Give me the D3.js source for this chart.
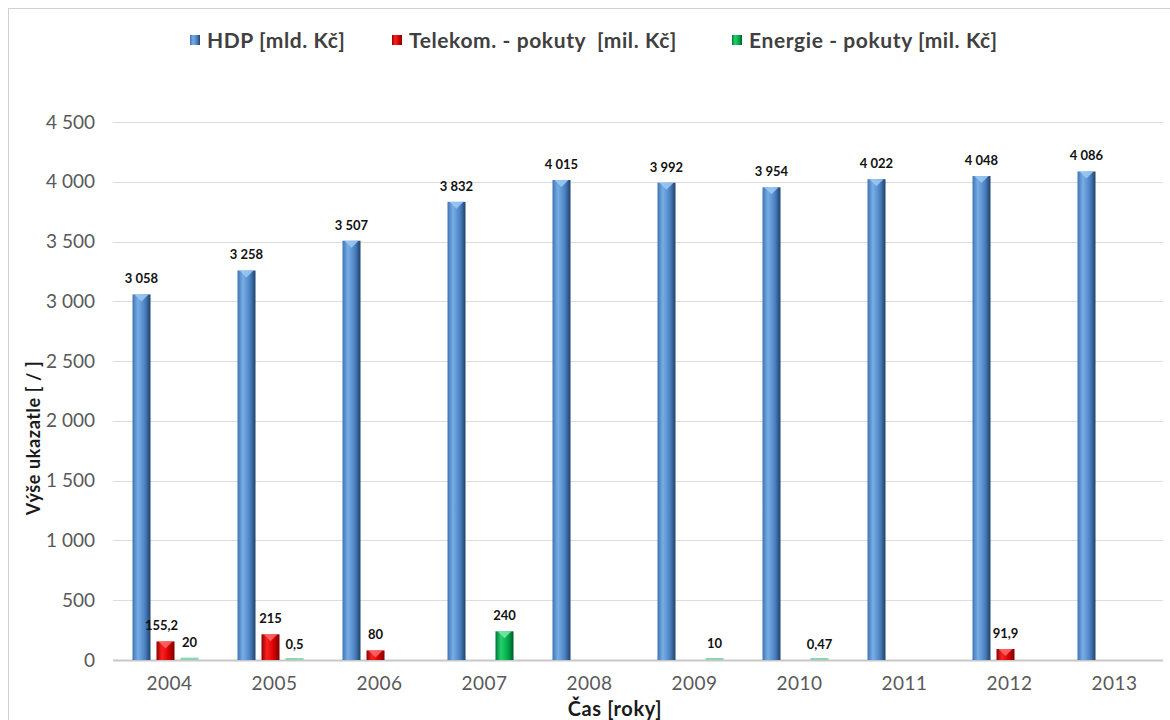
<!DOCTYPE html>
<html>
<head>
<meta charset="utf-8">
<script src="https://cdn.jsdelivr.net/npm/d3@7"></script>
<style>
  body { margin: 0; background: #fff; }
  #chart text { font-family: Lato, "Open Sans", sans-serif; }
</style>
</head>
<body>
<div id="chart"></div>
<script>
// chart data
const years = ["2004", "2005", "2006", "2007", "2008", "2009", "2010", "2011", "2012", "2013"];
const seriesNames = ["HDP [mld. Kč]", "Telekom. - pokuty  [mil. Kč]", "Energie - pokuty [mil. Kč]"];
const hdp = [3058, 3258, 3507, 3832, 4015, 3992, 3954, 4022, 4048, 4086];
const telekom = [155.2, 215, 80, null, null, null, null, null, 91.9, null];
const energie = [20, 0.5, null, 240, null, 10, 0.47, null, null, null];
const yTicks = [0, 500, 1000, 1500, 2000, 2500, 3000, 3500, 4000, 4500];

const allSeries = [hdp, telekom, energie];
const seriesKeys = ["hdp", "tel", "ene"];

const width = 1170;
const height = 720;

// czech number formatting: space thousands, comma decimals
const cz = d3.formatLocale({ decimal: ",", thousands: "\u00a0", grouping: [3], currency: ["", ""] });
const fmt = cz.format(",");

const svg = d3.select("#chart").append("svg")
  .attr("width", width)
  .attr("height", height);

// outer frame
svg.append("rect")
  .attr("x", 8.5).attr("y", 8.5)
  .attr("width", width).attr("height", height)
  .attr("fill", "#fff")
  .attr("stroke", "#d0d0d0");

// gradients
const defs = svg.append("defs");
const gradColors = {
  hdp: ["#3f74b3", "#78aee6", "#4a80c0", "#1f4169"],
  tel: ["#8c0000", "#ff2020", "#d00000", "#7a0000"],
  ene: ["#00753a", "#25d06a", "#00a84a", "#005a2b"],
};
seriesKeys.forEach((k) => {
  const g = defs.append("linearGradient").attr("id", "grad-" + k)
    .attr("x1", "0%").attr("x2", "100%").attr("y1", "0%").attr("y2", "0%");
  g.append("stop").attr("offset", "0%").attr("stop-color", gradColors[k][0]);
  g.append("stop").attr("offset", "30%").attr("stop-color", gradColors[k][1]);
  g.append("stop").attr("offset", "70%").attr("stop-color", gradColors[k][2]);
  g.append("stop").attr("offset", "100%").attr("stop-color", gradColors[k][3]);
});
const topColors = { hdp: "#9ccaf5", tel: "#ff6b6b", ene: "#7fe8a8" };
const thinColors = { hdp: "#9ccaf5", tel: "#e88", ene: "#8fd6b0" };

// scales
const plotLeft = 113, plotRight = 1163, plotTop = 122, plotBottom = 660;
const x0 = d3.scaleBand().domain(years).range([plotLeft, plotRight]);
const groupWidth = 66;
const x1 = d3.scaleBand().domain(seriesKeys).range([0, groupWidth]).paddingInner(0.25);
const y = d3.scaleLinear().domain([0, 4500]).range([plotBottom, plotTop]);

// gridlines
svg.append("g")
  .selectAll("line")
  .data(yTicks)
  .enter()
  .append("line")
  .attr("x1", plotLeft).attr("x2", plotRight)
  .attr("y1", (d) => Math.round(y(d)) + 0.5)
  .attr("y2", (d) => Math.round(y(d)) + 0.5)
  .attr("stroke", (d) => (d === 0 ? "#c8c8c8" : "#dcdcdc"))
  .attr("stroke-width", (d) => (d === 0 ? 2 : 1));

// y axis labels
const yAxis = d3.axisLeft(y).tickValues(yTicks).tickFormat(fmt).tickSize(0).tickPadding(0);
const yg = svg.append("g").attr("transform", `translate(95,0)`).call(yAxis);
yg.select(".domain").remove();
yg.selectAll("text")
  .attr("fill", "#595959")
  .style("font-size", "19px");

// x axis labels
const xAxis = d3.axisBottom(x0).tickSize(0).tickPadding(0);
const xg = svg.append("g").attr("transform", `translate(4,${plotBottom + 16})`).call(xAxis);
xg.select(".domain").remove();
xg.selectAll("text")
  .attr("fill", "#595959")
  .style("font-size", "19px")
  .style("letter-spacing", "0.5px");

// bars
const groupOffset = (x0.bandwidth() - groupWidth) / 2;
seriesKeys.forEach((k, si) => {
  const vals = allSeries[si];
  const data = years.map((yr, i) => ({ year: yr, value: vals[i] })).filter((d) => d.value !== null);
  const g = svg.append("g");
  const bx = (d) => x0(d.year) + groupOffset + x1(k);
  const bw = x1.bandwidth();

  g.selectAll("rect.bar")
    .data(data)
    .enter()
    .append("rect")
    .attr("class", "bar")
    .attr("x", bx)
    .attr("width", bw)
    .attr("y", (d) => Math.min(y(d.value), plotBottom - 2))
    .attr("height", (d) => Math.max(y(0) - y(d.value), 2))
    .attr("fill", (d) => (y(0) - y(d.value) < 4 ? thinColors[k] : `url(#grad-${k})`));

  // bevel arrow at top of tall bars
  g.selectAll("path.bevel")
    .data(data.filter((d) => y(0) - y(d.value) > 8))
    .enter()
    .append("path")
    .attr("class", "bevel")
    .attr("d", (d) => {
      const x = bx(d), t = y(d.value);
      return `M${x + 2},${t} L${x + bw - 2},${t} L${x + bw / 2},${t + 7} Z`;
    })
    .attr("fill", topColors[k])
    .attr("opacity", 0.85);

  // value labels
  g.selectAll("text.lbl")
    .data(data)
    .enter()
    .append("text")
    .attr("class", "lbl")
    .attr("x", (d) => bx(d) + bw / 2 + (k === "tel" && d.year === "2004" ? -4 : 0))
    .attr("y", (d) => y(d.value) - 11)
    .attr("text-anchor", "middle")
    .attr("fill", "#111")
    .style("font-size", "13px")
    .style("font-weight", "bold")
    .text((d) => fmt(d.value));
});

// legend
const legendX = [190, 392, 732];
const legend = svg.append("g");
seriesKeys.forEach((k, i) => {
  legend.append("rect")
    .attr("x", legendX[i]).attr("y", 35)
    .attr("width", 10).attr("height", 10)
    .attr("fill", `url(#grad-${k})`);
  legend.append("text")
    .attr("x", legendX[i] + 17).attr("y", 48)
    .attr("fill", "#404040")
    .style("font-size", "21px")
    .style("font-weight", "bold")
    .style("letter-spacing", "0.6px")
    .style("white-space", "pre")
    .text(seriesNames[i]);
});

// axis titles
svg.append("text")
  .attr("transform", `translate(40,438) rotate(-90)`)
  .attr("text-anchor", "middle")
  .attr("fill", "#1a1a1a")
  .style("font-size", "18px")
  .style("font-weight", "bold")
  .style("letter-spacing", "0.6px")
  .text("Výše ukazatle [ / ]");

svg.append("text")
  .attr("x", 615).attr("y", 716)
  .attr("text-anchor", "middle")
  .attr("fill", "#1a1a1a")
  .style("font-size", "20px")
  .style("font-weight", "bold")
  .style("letter-spacing", "0.6px")
  .text("Čas [roky]");
</script>
</body>
</html>
